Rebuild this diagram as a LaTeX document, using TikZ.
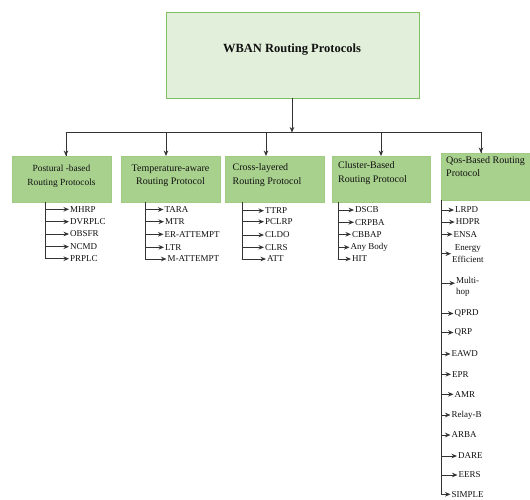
\documentclass[tikz,border=0pt]{standalone}
\usepackage{fontspec}
\setmainfont{Liberation Serif}
\usetikzlibrary{arrows.meta,calc}
\definecolor{topfill}{HTML}{E2EFDA}
\definecolor{topdraw}{HTML}{80BF62}
\definecolor{boxfill}{HTML}{A9D18E}
\definecolor{boxdraw}{HTML}{9FCB82}
\definecolor{linec}{HTML}{333333}
\definecolor{txt}{HTML}{111111}
\tikzset{
  topbox/.style={draw=topdraw, fill=topfill, line width=0.8pt, inner sep=0pt, outer sep=0pt},
  cbox/.style={draw=boxdraw, fill=boxfill, line width=0.7pt, inner sep=0pt, outer sep=0pt,
    minimum height=46pt},
  lbl/.style={inner sep=0pt, text=txt, font={\fontsize{10}{13.5}\selectfont}},
  item/.style={anchor=west, inner sep=1pt, text=txt, font={\fontsize{9}{11.5}\selectfont}},
  conn/.style={draw=linec, line width=1pt},
  arr/.style={draw=linec, line width=0.9pt, -{Stealth[length=5.5pt,width=4.6pt]}},
}
\begin{document}
\begin{tikzpicture}[x=1pt,y=-1pt]
\clip (0,0) rectangle (530,499);
\fill[white] (0,0) rectangle (530,499);

% top box
\node[topbox, minimum width=253pt, minimum height=86pt] (top) at (292.5,55) {};
\node[inner sep=0pt, text=txt, font={\bfseries\fontsize{12.5}{15}\selectfont}] (title) at (292,50) {WBAN Routing Protocols};

% child boxes
\node[cbox, minimum width=99pt] (pb) at (61.5,179) {};
\node[cbox, minimum width=99pt] (tb) at (170.5,179) {};
\node[cbox, minimum width=99pt] (cb) at (274.5,179) {};
\node[cbox, minimum width=98pt] (kb) at (381,179) {};
\node[cbox, minimum width=92pt, minimum height=47pt] (qb) at (487,176.5) {};

% box labels
\node[lbl, align=center, font={\fontsize{9.4}{14.5}\selectfont}] (pbt) at (61.5,176) {Postural -based\\Routing Protocols};
\node[lbl, align=center] (tbt) at (170.5,176) {Temperature-aware\\Routing Protocol};
\node[lbl, align=left, anchor=west] (cbt) at (232.5,175) {Cross-layered\\Routing Protocol};
\node[lbl, align=left, anchor=west] (kbt) at (338,173) {Cluster-Based\\Routing Protocol};
\node[lbl, align=left, anchor=west] (qbt) at (446,166.5) {Qos-Based Routing\\Protocol};

% top connectors
\coordinate (hub) at (292,132.5);
\draw[arr] (top.south -| hub) -- (hub);
\draw[conn] (pb.north -| 66,0) |- (hub);
\draw[conn] (qb.north -| 481,0) |- (hub);
\foreach \b/\x in {pb/66, tb/166, cb/266, kb/381, qb/481}
  \draw[arr] (\x,132.5) -- (\b.north -| \x,0);

% vertical stems
\coordinate (pv) at ($(pb.south west)+(33,0)$);
\coordinate (tv) at ($(tb.south west)+(24,0)$);
\coordinate (cv) at ($(cb.south west)+(17,0)$);
\coordinate (kv) at ($(kb.south west)+(6,0)$);
\coordinate (qv) at (qb.south west);

% postural items
\foreach \i/\x/\y/\t in {1/69/209.3/MHRP, 2/69/221.7/DVRPLC, 3/69/234/OBSFR, 4/69/246.7/NCMD, 5/69/258.7/PRPLC} {
  \node[item] (p\i) at (\x,\y) {\t};
  \draw[arr] (pv) |- (p\i.west);
}
% temperature items
\foreach \i/\x/\y/\t in {1/163.5/209.5/TARA, 2/164/221.7/MTR, 3/163.5/234.3/ER-ATTEMPT, 4/164/247.3/LTR, 5/166.5/259/M-ATTEMPT} {
  \node[item] (t\i) at (\x,\y) {\t};
  \draw[arr] (tv) |- (t\i.west);
}
% cross-layered items
\foreach \i/\x/\y/\t in {1/264/210.7/TTRP, 2/264/221.7/PCLRP, 3/264/235/CLDO, 4/264/247.3/CLRS, 5/266/259/ATT} {
  \node[item] (c\i) at (\x,\y) {\t};
  \draw[arr] (cv) |- (c\i.west);
}
% cluster items
\foreach \i/\x/\y/\t in {1/354/210/DSCB, 2/354/222.3/CRPBA, 3/351/234.3/CBBAP, 4/349.5/247.3/Any Body, 5/351/259/HIT} {
  \node[item] (k\i) at (\x,\y) {\t};
  \draw[arr] (kv) |- (k\i.west);
}
% QoS items
\foreach \i/\x/\y/\t in {1/454/210/LRPD, 2/454.7/222/HDPR, 3/452.5/234.3/ENSA,
  6/453.5/313.5/QPRD, 7/453.5/332.5/QRP, 8/450.5/354/EAWD, 9/451/374.3/EPR,
  10/453.5/394.3/AMR, 11/450.5/415/Relay-B, 12/450.5/435/ARBA, 13/457/456/DARE,
  14/457.5/475/EERS, 15/450.5/494.3/SIMPLE} {
  \node[item] (q\i) at (\x,\y) {\t};
  \draw[arr] (qv) |- (q\i.west);
}
\node[item, align=center] (q4) at (451,253.7) {Energy\\Efficient};
\draw[arr] (qv) |- (q4.west);
\node[item, align=left] (q5) at (455,286.7) {Multi-\\hop};
\draw[arr] (qv) |- ($(q5.west)+(0,-3.5)$);
\end{tikzpicture}
\end{document}
